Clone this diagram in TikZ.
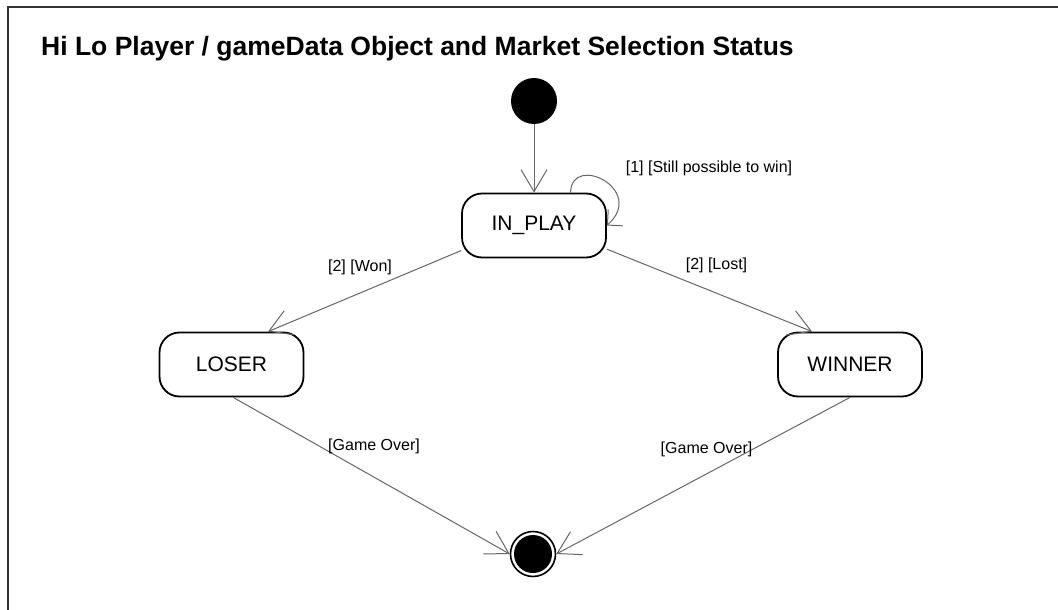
\documentclass[tikz,border=0pt]{standalone}
\usepackage{fontspec}
\setmainfont{Liberation Sans}
\usetikzlibrary{arrows.meta}
\definecolor{edgegray}{HTML}{666666}
\tikzset{
  statebox/.style={draw=black, line width=1.8pt, rounded corners=20pt, fill=white,
    minimum width=144pt, minimum height=64pt, inner sep=0pt,
    font=\fontsize{21}{25}\selectfont},
  initstate/.style={circle, fill=black, minimum size=46pt, inner sep=0pt},
  finalstate/.style={circle, draw=black, line width=1.6pt, fill=white, minimum size=45pt, inner sep=0pt,
    path picture={\fill[black] (path picture bounding box.center) circle (19pt);}},
  trans/.style={draw=edgegray, line width=1pt, -{Straight Barb[length=22pt,width=26pt]}},
  looptrans/.style={draw=edgegray, line width=1pt, -{Straight Barb[length=11pt,width=22pt]}},
  lbl/.style={inner sep=0pt, font=\fontsize{16}{19}\selectfont},
}
\begin{document}
\begin{tikzpicture}[x=1pt,y=-1pt]
\useasboundingbox (0,0) rectangle (1058,610);
\draw[black!80, line width=1.6pt] (8,612) -- (8,7) -- (1060,7);
\node[anchor=base west, inner sep=0pt, font=\fontsize{26.5}{30}\selectfont\bfseries] (title) at (41,55.7)
  {Hi Lo Player / gameData Object and Market Selection Status};

\node[initstate] (init) at (534,101) {};
\node[statebox] (inplay) at (534,225.5) {IN\_PLAY};
\node[statebox] (loser) at (231.5,364.5) {LOSER};
\node[statebox] (winner) at (850,364.5) {WINNER};
\node[finalstate] (final) at (533,554) {};

\draw[trans] (init.south) -- (inplay.north);
\draw[looptrans] (inplay.42) .. controls +(1,-40) and +(40,-36) .. (inplay.east);
\draw[trans] (inplay.199) -- (loser.42);
\draw[trans] (inplay.342) -- (winner.139);
\draw[trans] (loser.273) -- (final.west);
\draw[trans] (winner.270) -- (final.east);

\node[lbl] (l1) at (709,168) {[1] [Still possible to win]};
\node[lbl] (l2) at (360,267.5) {[2] [Won]};
\node[lbl] (l3) at (716.5,265.5) {[2] [Lost]};
\node[lbl] (l4) at (374,446) {[Game Over]};
\node[lbl] (l5) at (706.5,449) {[Game Over]};
\end{tikzpicture}
\end{document}
